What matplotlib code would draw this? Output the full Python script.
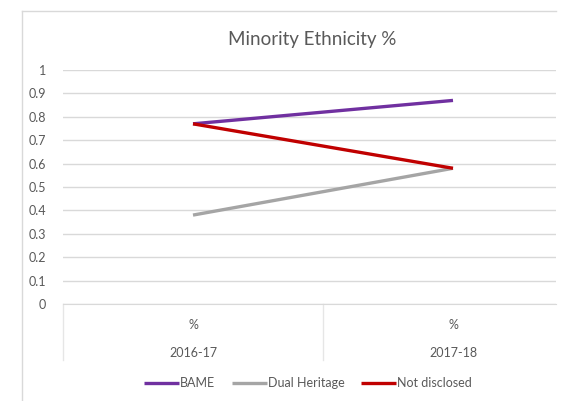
import matplotlib.pyplot as plt
from matplotlib.lines import Line2D

years = ['2016-17', '2017-18']
units = ['%', '%']
bame = [0.77, 0.87]
dual_heritage = [0.38, 0.58]
not_disclosed = [0.77, 0.58]

series = [('BAME', bame, '#7030A0'),
          ('Dual Heritage', dual_heritage, '#A5A5A5'),
          ('Not disclosed', not_disclosed, '#C00000')]

plt.rcParams['font.family'] = ['Lato', 'DejaVu Sans']
grey_text = '#595959'
grid_col = '#D9D9D9'

W, H = 577, 401
fig = plt.figure(figsize=(W / 100, H / 100), dpi=100)
fig.patch.set_facecolor('white')

# outer chart frame (left and top edges only show)
fig.add_artist(Line2D([22 / W, 22 / W], [0, 1 - 11 / H], color=grid_col, lw=1))
fig.add_artist(Line2D([22 / W, 556 / W], [1 - 11 / H, 1 - 11 / H], color=grid_col, lw=1))

ax = fig.add_axes([63 / W, (H - 304) / H, 493 / W, 234 / H])
x = list(range(len(years)))
for name, vals, col in series:
    ax.plot(x, vals, color=col, lw=2.4, label=name, solid_capstyle='butt')

ax.set_ylim(0, 1)
ax.set_xlim(-0.5, 0.5 + (556 - 323) / 260)
ax.set_yticks([i / 10 for i in range(11)])
ax.set_yticklabels(['0'] + ['0.%d' % i for i in range(1, 10)] + ['1'])
ax.tick_params(axis='y', length=0, pad=12, labelsize=9, labelcolor=grey_text)
ax.set_xticks([])
ax.grid(axis='y', color=grid_col, lw=1)
ax.set_axisbelow(True)
for side in ['left', 'right', 'top']:
    ax.spines[side].set_visible(False)
ax.spines['bottom'].set_color(grid_col)

# two-level category labels with separators
trans = ax.get_xaxis_transform()
for xi, u, yr in zip(x, units, years):
    ax.text(xi, -21 / 234, u, transform=trans, ha='center', va='center',
            fontsize=9, color=grey_text)
    ax.text(xi, -49 / 234, yr, transform=trans, ha='center', va='center',
            fontsize=9, color=grey_text)
for xs in [-0.5, 0.5]:
    ax.plot([xs, xs], [0, -56 / 234], transform=trans, color='#E6E6E6',
            lw=1, clip_on=False)

ax.legend(loc='center', bbox_to_anchor=(308 / W, (H - 383) / H),
          bbox_transform=fig.transFigure, ncol=3, frameon=False, fontsize=9,
          handlelength=2.8, handletextpad=0.1, columnspacing=1.3,
          labelcolor=grey_text)

fig.text(312 / W, 1 - 40 / H, 'Minority Ethnicity %', ha='center', va='center',
         fontsize=13.5, color=grey_text)

fig.savefig('out.png', dpi=100)
